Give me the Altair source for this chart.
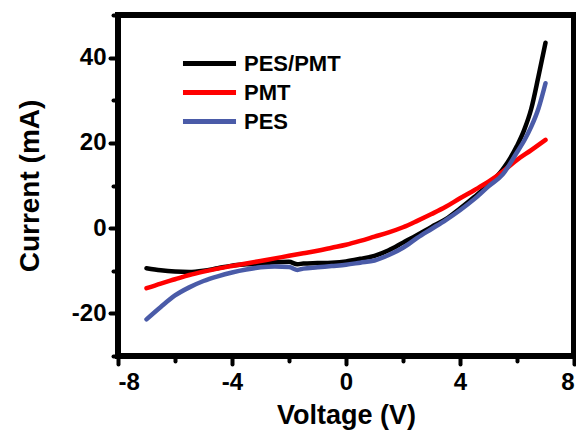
import altair as alt
import pandas as pd

series_names = ["PES/PMT", "PMT", "PES"]
series_colors = ["#000000", "#ff0000", "#4a5ba8"]

x_pes_pmt = [-7, -6.5, -6, -5.5, -5, -4.5, -4, -3.5, -3, -2.5, -2, -1.7, -1.5, -1, -0.5, 0, 0.5, 1,
             1.5, 2, 2.5, 3, 3.5, 4, 4.5, 5, 5.5, 6, 6.25, 6.5, 6.75, 7]
y_pes_pmt = [-9.4, -9.9, -10.2, -10.3, -10.0, -9.4, -8.8, -8.5, -8.3, -8.0, -7.9, -8.5, -8.3, -8.2,
             -8.1, -7.8, -7.2, -6.5, -5.2, -3.4, -1.6, 0.3, 2.1, 4.6, 7.3, 10.2, 13.8, 19.3, 23.0,
             28.0, 35.5, 43.5]

x_pmt = [-7, -6.5, -6, -5.5, -5, -4.5, -4, -3.5, -3, -2.5, -2, -1.5, -1, -0.5, 0, 0.5, 1, 1.5, 2,
         2.5, 3, 3.5, 4, 4.5, 5, 5.5, 6, 6.5, 7]
y_pmt = [-14.1, -13.0, -12.0, -11.0, -10.2, -9.5, -8.9, -8.3, -7.7, -7.1, -6.5, -5.9, -5.3, -4.6,
         -3.9, -3.0, -2.0, -1.0, 0.2, 1.7, 3.3, 5.0, 7.0, 8.9, 10.9, 13.3, 16.0, 18.3, 20.7]

x_pes = [-7, -6.5, -6, -5.5, -5, -4.5, -4, -3.5, -3, -2.5, -2, -1.7, -1.5, -1, -0.5, 0, 0.5, 1,
         1.5, 2, 2.5, 3, 3.5, 4, 4.5, 5, 5.5, 6, 6.25, 6.5, 6.75, 7]
y_pes = [-21.4, -18.5, -15.8, -13.9, -12.4, -11.3, -10.4, -9.7, -9.2, -9.0, -9.1, -9.8, -9.5, -9.2,
         -8.9, -8.6, -8.1, -7.6, -6.3, -4.6, -2.3, -0.2, 1.9, 4.2, 6.8, 9.8, 12.6, 17.8, 20.5,
         23.8, 28.0, 34.0]

x_ticks = [-8, -6, -4, -2, 0, 2, 4, 6, 8]
y_ticks = [-30, -20, -10, 0, 10, 20, 30, 40, 50]

rows = []
for name, xs, ys in zip(series_names, [x_pes_pmt, x_pmt, x_pes], [y_pes_pmt, y_pmt, y_pes]):
    for i, (xv, yv) in enumerate(zip(xs, ys)):
        rows.append({"series": name, "V": xv, "I": yv, "order": i})
df = pd.DataFrame(rows)

FONT = "Liberation Sans"
W, H = 456, 341

lines = alt.Chart(df).mark_line(strokeWidth=4.5, interpolate="monotone", strokeCap="round").encode(
    x=alt.X("V:Q", scale=alt.Scale(domain=[-8, 8], nice=False, zero=False),
            axis=alt.Axis(values=x_ticks, title="Voltage (V)",
                          labelExpr="datum.value % 4 === 0 ? '' + datum.value : ''",
                          tickSize={"condition": {"test": "datum.value % 4 === 0", "value": 8}, "value": 5},
                          domainWidth=5, domainColor="black", tickWidth=4, tickColor="black",
                          labelPadding=6, titlePadding=8, labelFontSize=24, titleFontSize=27)),
    y=alt.Y("I:Q", scale=alt.Scale(domain=[-30, 50], nice=False, zero=False),
            axis=alt.Axis(values=y_ticks, title="Current (mA)",
                          labelExpr="datum.value % 20 === 0 ? '' + datum.value : ''",
                          tickSize={"condition": {"test": "datum.value % 20 === 0", "value": 8}, "value": 5},
                          domainWidth=5, domainColor="black", tickWidth=4, tickColor="black",
                          labelPadding=4, titlePadding=27, labelFontSize=24, titleFontSize=28)),
    color=alt.Color("series:N", scale=alt.Scale(domain=series_names, range=series_colors),
                    legend=alt.Legend(title=None, orient="none", legendX=78, legendY=35,
                                      symbolType="M-2.5,0H2.5", symbolSize=450,
                                      symbolStrokeWidth=5, labelOffset=21, padding=0,
                                      rowPadding=4, labelFontSize=22, labelFont=FONT,
                                      labelFontWeight="bold", labelColor="black")),
    order="order:Q",
)

frame = alt.Chart(df).mark_rect(fill=None, stroke="black", strokeWidth=5, fillOpacity=0).encode(
    x=alt.value(0), x2=alt.value(W), y=alt.value(0), y2=alt.value(H)
)

chart = alt.layer(frame, lines).properties(
    width=W, height=H,
    autosize=alt.AutoSizeParams(type="none"),
    padding={"left": 110, "top": 7, "right": 2, "bottom": 77},
).configure_view(
    stroke=None
).configure_axis(
    tickCap="round",
    labelFont=FONT, labelFontWeight="bold", labelColor="black",
    titleFont=FONT, titleFontWeight="bold", titleColor="black", grid=False
)

chart.save("out.html", embed_options={"renderer": "svg", "actions": False})
